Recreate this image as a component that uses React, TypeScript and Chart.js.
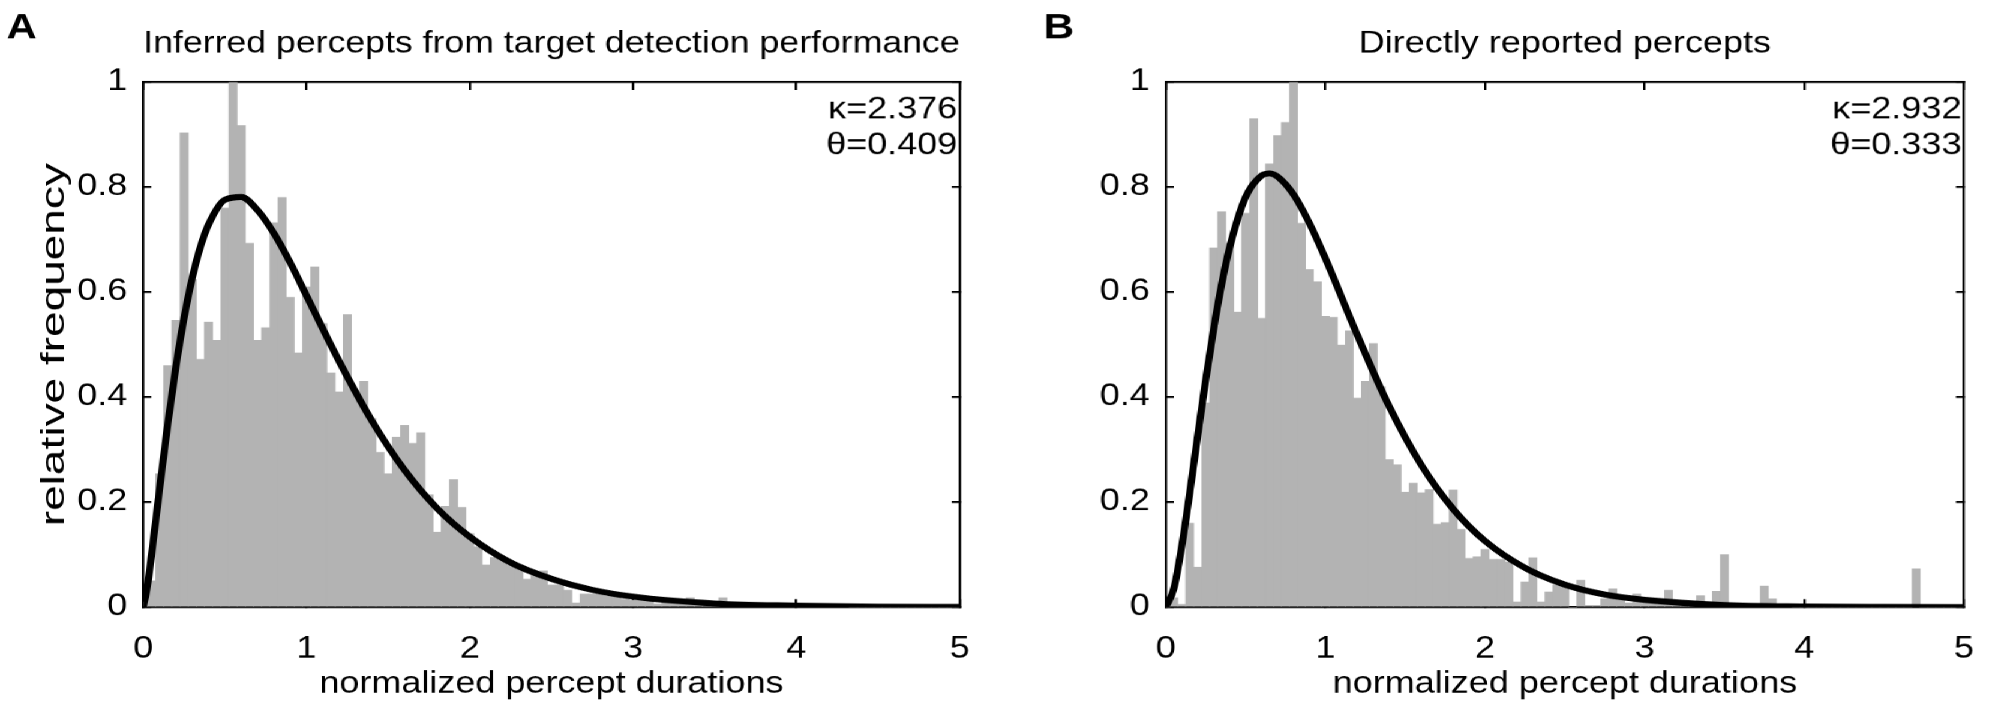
import React, { useEffect, useRef } from 'react';
import { Chart, registerables } from 'chart.js';

Chart.register(...registerables);

// the reference text is wider than the font's own shape, so every panel is
// drawn at 1/STRETCH width and stretched back with a css transform
const STRETCH = 1.2;
const FONT = "'Liberation Sans', Arial, Helvetica, sans-serif";

const binWidth = 0.05;
const xTickValues = [0, 1, 2, 3, 4, 5];
const yTickValues = [0, 0.2, 0.4, 0.6, 0.8, 1];

// panel A: inferred percepts (bins centred at 0, 0.05, ... 5)
const histA = [
  0.01, 0.05, 0.254, 0.46, 0.546, 0.903, 0.624, 0.472, 0.543, 0.508,
  0.76, 1.0, 0.917, 0.693, 0.508, 0.532, 0.732, 0.78, 0.59, 0.484,
  0.61, 0.648, 0.54, 0.446, 0.41, 0.557, 0.41, 0.43, 0.359, 0.295,
  0.254, 0.324, 0.346, 0.312, 0.332, 0.214, 0.143, 0.192, 0.243, 0.19,
  0.14, 0.115, 0.08, 0.095, 0.09, 0.08, 0.075, 0.053, 0.068, 0.069,
  0.042, 0.042, 0.032, 0.008, 0.025, 0.025, 0.025, 0.021, 0.02, 0.015,
  0.013, 0.013, 0.012, 0.006, 0.01, 0.01, 0.01, 0.018, 0.01, 0.008,
  0.008, 0.018, 0.006, 0.004, 0.004, 0.004, 0.003, 0.003, 0.003, 0.003,
  0.003, 0.002, 0.003, 0.002, 0.002, 0.002, 0.002, 0, 0, 0,
  0, 0, 0, 0, 0, 0, 0, 0, 0, 0,
  0,
];
const curveAx = [0, 0.025, 0.05, 0.1, 0.15, 0.2, 0.25, 0.3, 0.35, 0.4, 0.5, 0.6, 0.7, 0.8, 0.9, 1.0,
  1.2, 1.4, 1.6, 1.8, 2.0, 2.25, 2.5, 2.75, 3.0, 3.5, 4.0, 4.5, 5.0];
const curveAy = [0, 0.04, 0.098, 0.226, 0.349, 0.458, 0.551, 0.627, 0.686, 0.729, 0.776, 0.781, 0.756, 0.712, 0.656, 0.593,
  0.468, 0.355, 0.261, 0.188, 0.134, 0.085, 0.054, 0.033, 0.02, 0.007, 0.003, 0.001, 0.0003];

// panel B: directly reported percepts
const histB = [
  0, 0.018, 0.005, 0.16, 0.076, 0.389, 0.684, 0.753, 0.693, 0.562,
  0.75, 0.93, 0.55, 0.844, 0.898, 0.923, 1.0, 0.731, 0.643, 0.62,
  0.554, 0.552, 0.499, 0.526, 0.398, 0.43, 0.502, 0.42, 0.281, 0.271,
  0.219, 0.236, 0.218, 0.224, 0.158, 0.161, 0.223, 0.148, 0.093, 0.096,
  0.11, 0.091, 0.091, 0.086, 0.01, 0.048, 0.094, 0.01, 0.029, 0.042,
  0.039, 0, 0.051, 0.003, 0.003, 0.016, 0.035, 0.016, 0.008, 0.025,
  0.015, 0.007, 0.005, 0.032, 0.007, 0.003, 0.003, 0.022, 0.003, 0.03,
  0.1, 0.003, 0.003, 0.003, 0.003, 0.04, 0.016, 0.006, 0.006, 0,
  0, 0, 0, 0, 0, 0, 0, 0, 0, 0,
  0, 0, 0, 0, 0.073, 0, 0, 0, 0, 0,
  0,
];
const curveBx = [0, 0.05, 0.1, 0.15, 0.2, 0.25, 0.3, 0.35, 0.4, 0.5, 0.6, 0.65, 0.7, 0.8, 0.9, 1.0,
  1.2, 1.4, 1.6, 1.8, 2.0, 2.25, 2.5, 2.75, 3.0, 3.5, 4.0, 4.5, 5.0];
const curveBy = [0, 0.035, 0.116, 0.218, 0.327, 0.433, 0.53, 0.615, 0.685, 0.781, 0.822, 0.826, 0.82, 0.786, 0.731, 0.664,
  0.518, 0.382, 0.271, 0.187, 0.126, 0.075, 0.043, 0.024, 0.014, 0.004, 0.0012, 0.0003, 0.0001];

interface PanelProps {
  letter: string;
  title: string;
  hist: number[];
  curveX: number[];
  curveY: number[];
  kappa: string;
  theta: string;
  yTitle?: string;
  axisWidth: number;
  rightPad: number;
  letterX: number;
}

function Panel(props: PanelProps) {
  const canvasRef = useRef<HTMLCanvasElement | null>(null);

  useEffect(() => {
    if (!canvasRef.current) return;

    const bars = props.hist.map((v, i) => ({ x: i * binWidth, y: v }));
    const curve = props.curveX.map((x, i) => ({ x, y: props.curveY[i] }));

    const tickGrid = (len: number) => ({
      display: true,
      drawOnChartArea: false,
      drawTicks: true,
      tickLength: -len,
      lineWidth: 2,
      color: '#000',
      offset: false,
    });
    const border = { display: true, color: '#000', width: 2 };
    const xTicks = (axis: any) => { axis.ticks = xTickValues.map(v => ({ value: v })); };
    const yTicks = (axis: any) => { axis.ticks = yTickValues.map(v => ({ value: v })); };

    const panelText = {
      id: 'panelText',
      afterDraw(chart: any) {
        const { ctx, chartArea } = chart;
        ctx.save();
        ctx.fillStyle = '#000';
        ctx.textBaseline = 'alphabetic';
        ctx.font = `bold 35px ${FONT}`;
        ctx.textAlign = 'left';
        ctx.fillText(props.letter, props.letterX, 38);
        ctx.font = `30px ${FONT}`;
        ctx.textAlign = 'right';
        ctx.fillText(props.kappa, chartArea.right - 2, chartArea.top + 36);
        ctx.fillText(props.theta, chartArea.right - 2, chartArea.top + 72.5);
        // the y label is taller along its length than the other texts
        if (props.yTitle) {
          ctx.translate(53, (chartArea.top + chartArea.bottom) / 2);
          ctx.rotate(-Math.PI / 2);
          ctx.scale(1, 0.6);
          ctx.font = `46px ${FONT}`;
          ctx.textAlign = 'center';
          ctx.fillText(props.yTitle, 0, 0);
        }
        ctx.restore();
      },
    };

    const chart = new Chart(canvasRef.current, {
      type: 'bar',
      data: {
        datasets: [
          {
            type: 'line',
            data: curve,
            borderColor: '#000',
            borderWidth: 6,
            pointRadius: 0,
            cubicInterpolationMode: 'monotone',
            order: 0,
          } as any,
          {
            type: 'bar',
            data: bars,
            backgroundColor: '#b3b3b3',
            borderWidth: 0,
            barPercentage: 1,
            categoryPercentage: 1,
            order: 1,
          },
        ],
      },
      options: {
        animation: false,
        responsive: true,
        maintainAspectRatio: false,
        devicePixelRatio: STRETCH,
        layout: { padding: { left: 0, right: props.rightPad, top: 0, bottom: 0 } },
        plugins: {
          legend: { display: false },
          tooltip: { enabled: false },
          title: {
            display: true,
            text: props.title,
            fullSize: false,
            color: '#000',
            font: { family: FONT, size: 30, weight: 'normal' },
            padding: { top: 26.5, bottom: 19.5 },
          },
        },
        scales: {
          x: {
            type: 'linear',
            position: 'bottom',
            min: 0,
            max: 5,
            offset: false,
            afterBuildTicks: xTicks,
            afterFit: (axis: any) => { axis.height = 99; },
            grid: tickGrid(8),
            border,
            ticks: {
              color: '#000',
              padding: 22,
              // a tall line box pushes the labels down without widening the side padding
              font: { family: FONT, size: 30, lineHeight: 1.9 },
              callback: (v: any) => String(v),
            },
            title: {
              display: true,
              text: 'normalized percept durations',
              color: '#000',
              font: { family: FONT, size: 30 },
              padding: { top: 0, bottom: 4 },
            },
          },
          x2: {
            type: 'linear',
            position: 'top',
            min: 0,
            max: 5,
            offset: false,
            afterBuildTicks: xTicks,
            afterFit: (axis: any) => { axis.height = 0; },
            grid: tickGrid(8),
            border,
            ticks: { display: false },
          },
          y: {
            type: 'linear',
            position: 'left',
            min: 0,
            max: 1,
            afterBuildTicks: yTicks,
            afterFit: (axis: any) => { axis.width = props.axisWidth; },
            grid: tickGrid(8 / STRETCH),
            border,
            ticks: {
              color: '#000',
              padding: 20,
              font: { family: FONT, size: 30 },
              callback: (v: any) => String(Math.round(Number(v) * 10) / 10),
            },
          },
          y2: {
            type: 'linear',
            position: 'right',
            min: 0,
            max: 1,
            afterBuildTicks: yTicks,
            afterFit: (axis: any) => { axis.width = 0; },
            grid: tickGrid(8 / STRETCH),
            border,
            ticks: { display: false },
          },
        },
      },
      plugins: [panelText],
    });

    return () => chart.destroy();
  }, []);

  return (
    <div style={{ position: 'relative', width: 1000 / STRETCH, height: 706 }}>
      <canvas ref={canvasRef} />
    </div>
  );
}

export default function App() {
  return (
    <div
      style={{
        position: 'fixed',
        left: 0,
        top: 0,
        width: 2000 / STRETCH,
        height: 706,
        display: 'flex',
        background: '#fff',
        transform: `scaleX(${STRETCH})`,
        transformOrigin: '0 0',
      }}
    >
      <Panel
        letter="A"
        title="Inferred percepts from target detection performance"
        hist={histA}
        curveX={curveAx}
        curveY={curveAy}
        kappa="κ=2.376"
        theta="θ=0.409"
        yTitle="relative frequency"
        axisWidth={143.3 / STRETCH}
        rightPad={40 / STRETCH}
        letterX={6.4 / STRETCH}
      />
      <Panel
        letter="B"
        title="Directly reported percepts"
        hist={histB}
        curveX={curveBx}
        curveY={curveBy}
        kappa="κ=2.932"
        theta="θ=0.333"
        axisWidth={166 / STRETCH}
        rightPad={16.5 / STRETCH}
        letterX={44 / STRETCH}
      />
    </div>
  );
}
